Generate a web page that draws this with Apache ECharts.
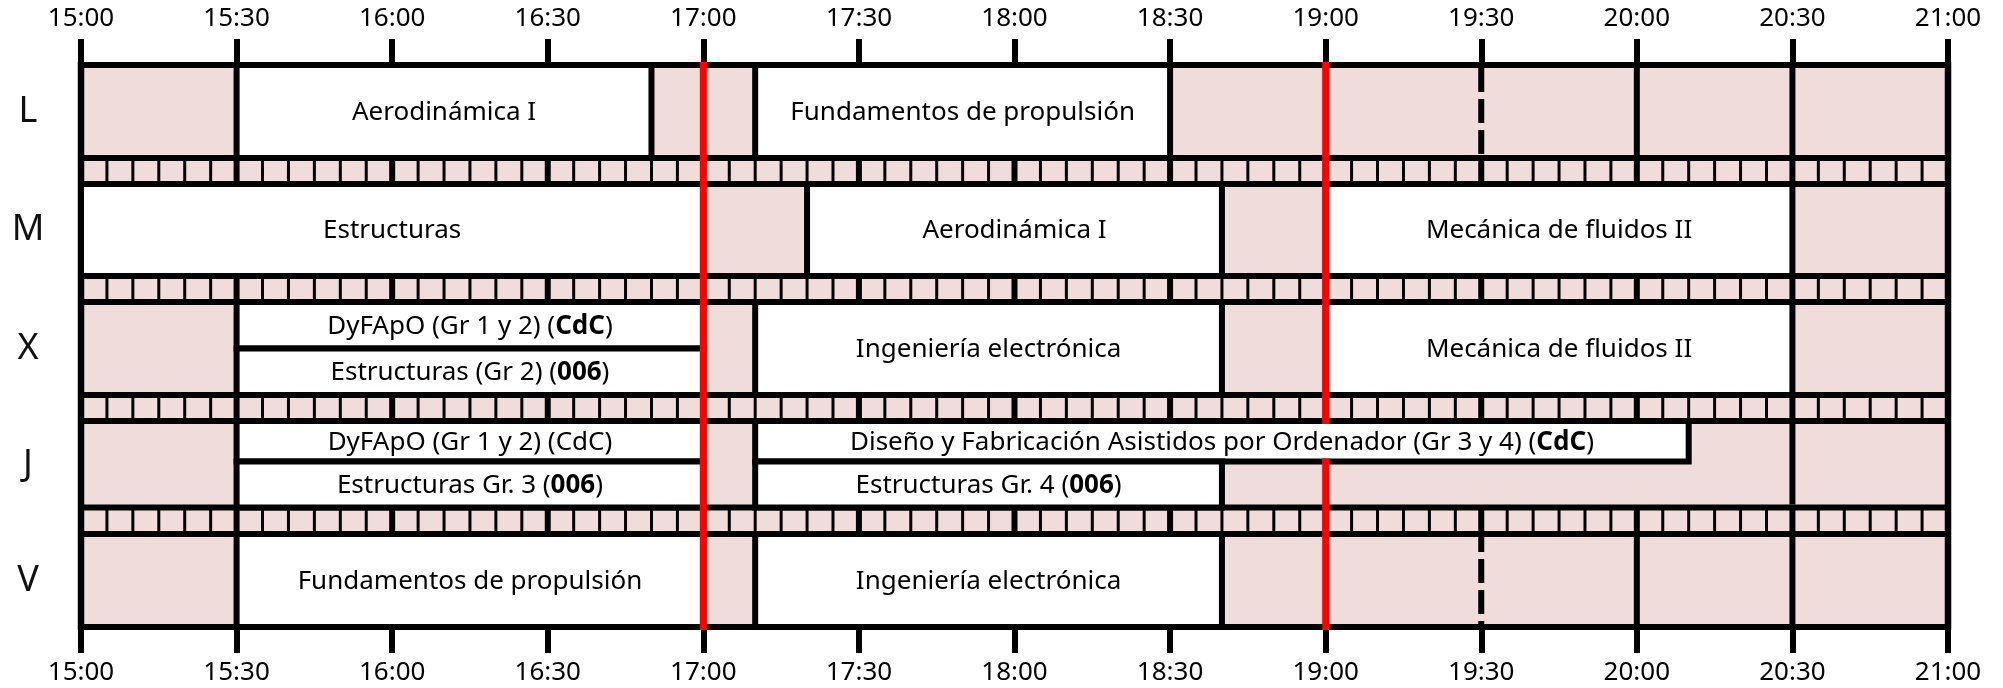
<!DOCTYPE html>
<html>
<head>
<meta charset="utf-8">
<script src="https://cdn.jsdelivr.net/npm/echarts@6/dist/echarts.min.js"></script>
<style>
html,body{margin:0;padding:0;background:#fff;}
#c{width:2003px;height:688px;}
</style>
</head>
<body>
<div id="c"></div>
<script>
// ---------------- DATA ----------------
const days = ['L', 'M', 'X', 'J', 'V'];
const tickLabels = ['15:00','15:30','16:00','16:30','17:00','17:30','18:00','18:30','19:00','19:30','20:00','20:30','21:00'];
// [dayIndex, part, start (minutes from 0:00), end, text]
const sessions = [
  [0, 'full',   930, 1010, 'Aerodinámica I'],
  [0, 'full',  1030, 1110, 'Fundamentos de propulsión'],
  [1, 'full',   900, 1020, 'Estructuras'],
  [1, 'full',  1040, 1120, 'Aerodinámica I'],
  [1, 'full',  1140, 1230, 'Mecánica de fluidos II'],
  [2, 'top',    930, 1020, 'DyFApO (Gr 1 y 2) ({b|CdC})'],
  [2, 'bottom', 930, 1020, 'Estructuras (Gr 2) ({b|006})'],
  [2, 'full',  1030, 1120, 'Ingeniería electrónica'],
  [2, 'full',  1140, 1230, 'Mecánica de fluidos II'],
  [3, 'top',    930, 1020, 'DyFApO (Gr 1 y 2) (CdC)'],
  [3, 'bottom', 930, 1020, 'Estructuras Gr. 3 ({b|006})'],
  [3, 'top',   1030, 1210, 'Diseño y Fabricación Asistidos por Ordenador (Gr 3 y 4) ({b|CdC})'],
  [3, 'bottom',1030, 1120, 'Estructuras Gr. 4 ({b|006})'],
  [4, 'full',   930, 1020, 'Fundamentos de propulsión'],
  [4, 'full',  1030, 1120, 'Ingeniería electrónica']
];
// free-time dividers inside pink areas: [dayIndex, time]
const dividers = [[0, 1170], [0, 1200], [0, 1230], [3, 1230], [4, 1170], [4, 1200], [4, 1230]];
const dashedDividerTimes = [1170];
const markerTimes = [1020, 1140];

// ---------------- LAYOUT (pixel-based layout coordinate on hidden y axis) ----------------
const T0 = 900, T1 = 1260;
const rowSpans = [[65, 158], [184, 276], [302, 395], [421, 507.5], [534, 627]];
const halfSplit = {2: 348.5, 3: 461.5};
const stripSpans = [[158, 184], [276, 302], [395, 421], [507.5, 534]];
const dashOffsets = {0: 0, 4: 9};
const PINK = '#f1dcdc';
const FONT = 'Noto Sans';

function partSpan(d, part) {
  const [a, b] = rowSpans[d];
  if (part === 'full') return [a, b];
  const m = halfSplit[d];
  return part === 'top' ? [a, m] : [m, b];
}

const chart = echarts.init(document.getElementById('c'), null, {renderer: 'canvas'});

function frameRender(params, api) {
  const P = (t, y) => api.coord([t, y]);
  const ch = [];
  const a = P(T0, 65), b = P(T1, 627);
  ch.push({type: 'rect', shape: {x: a[0], y: a[1], width: b[0] - a[0], height: b[1] - a[1]}, style: {fill: PINK}});
  // dividers
  dividers.forEach(([d, t]) => {
    const [y0, y1] = rowSpans[d];
    const p0 = P(t, y0 + 3), p1 = P(t, y1 - 3);
    const dashed = dashedDividerTimes.includes(t);
    ch.push({type: 'line', shape: {x1: p0[0], y1: p0[1], x2: p1[0], y2: p1[1]},
      style: {stroke: '#000', lineWidth: 6, lineDash: dashed ? [24, 7] : null, lineDashOffset: dashed ? (dashOffsets[d] || 0) : 0}});
  });
  // strips ticks
  stripSpans.forEach(([y0, y1]) => {
    for (let t = T0 + 5; t < T1; t += 5) {
      const p0 = P(t, y0), p1 = P(t, y1);
      ch.push({type: 'line', shape: {x1: p0[0], y1: p0[1], x2: p1[0], y2: p1[1]},
        style: {stroke: '#000', lineWidth: (t % 30 === 0) ? 6 : 3}});
    }
  });
  // horizontal lines
  const hy = [65, 627];
  stripSpans.forEach(s => { hy.push(s[0]); hy.push(s[1]); });
  hy.forEach(y => {
    const p0 = P(T0, y), p1 = P(T1, y);
    ch.push({type: 'line', shape: {x1: p0[0], y1: p0[1], x2: p1[0], y2: p1[1]}, style: {stroke: '#000', lineWidth: 6}});
  });
  // left/right borders
  [T0, T1].forEach(t => {
    const p0 = P(t, 62), p1 = P(t, 630);
    ch.push({type: 'line', shape: {x1: p0[0], y1: p0[1], x2: p1[0], y2: p1[1]}, style: {stroke: '#000', lineWidth: 6.5}});
  });
  // day labels
  days.forEach((d, i) => {
    const [y0, y1] = rowSpans[i];
    const p = P(T0, (y0 + y1) / 2);
    ch.push({type: 'text', x: p[0] - 53, y: p[1], style: {text: d, fontSize: 36, fontFamily: FONT, fill: '#111', align: 'center', verticalAlign: 'middle'}});
  });
  return {type: 'group', children: ch};
}

function sessionRender(params, api) {
  const s = sessions[params.dataIndex];
  const [y0, y1] = partSpan(s[0], s[1]);
  const p0 = api.coord([s[2], y0]), p1 = api.coord([s[3], y1]);
  return {type: 'group', children: [
    {type: 'rect', shape: {x: p0[0], y: p0[1], width: p1[0] - p0[0], height: p1[1] - p0[1]},
      style: {fill: '#fff', stroke: '#000', lineWidth: 6}},
    {type: 'text', x: (p0[0] + p1[0]) / 2, y: (p0[1] + p1[1]) / 2 + 1,
      style: {text: s[4], fontSize: 26, fontFamily: FONT, fill: '#000', align: 'center', verticalAlign: 'middle',
        rich: {b: {fontSize: 26, fontFamily: FONT, fontWeight: 'bold', fill: '#000'}}}}
  ]};
}

function markerRender(params, api) {
  const t = markerTimes[params.dataIndex];
  // visible segments: skip interiors of sessions that span across this time
  const holes = sessions.filter(s => s[2] < t && t < s[3]).map(s => {
    const [y0, y1] = partSpan(s[0], s[1]);
    return [y0 + 3, y1 - 3];
  }).sort((a, b) => a[0] - b[0]);
  const segs = [];
  let cur = 62;
  holes.forEach(h => { if (h[0] > cur) segs.push([cur, h[0]]); cur = Math.max(cur, h[1]); });
  if (cur < 630) segs.push([cur, 630]);
  return {type: 'group', children: segs.map(([a, b]) => {
    const p0 = api.coord([t, a]), p1 = api.coord([t, b]);
    return {type: 'line', shape: {x1: p0[0], y1: p0[1], x2: p1[0], y2: p1[1]}, style: {stroke: '#ff0000', lineWidth: 7}};
  })};
}

function axisDef(position, margin) {
  return {
    type: 'value', min: T0, max: T1, interval: 30, position: position,
    axisLine: {show: false},
    axisTick: {show: true, length: 26, lineStyle: {color: '#000', width: 6}},
    splitLine: {show: false},
    axisLabel: {show: true, fontSize: 26, fontFamily: FONT, color: '#000', margin: margin,
      showMinLabel: true, showMaxLabel: true,
      formatter: v => tickLabels[Math.round((v - T0) / 30)]}
  };
}

chart.setOption({
  animation: false,
  backgroundColor: '#fff',
  grid: {left: 81, right: 55, top: 65, bottom: 61},
  xAxis: [axisDef('top', 33), axisDef('bottom', 33)],
  yAxis: {type: 'value', min: 65, max: 627, inverse: true, show: false},
  series: [
    {type: 'custom', name: 'frame', renderItem: frameRender, data: [[0]], z: 1, silent: true},
    {type: 'custom', name: 'sessions', renderItem: sessionRender, data: sessions.map((s, i) => [i]), z: 2, silent: true},
    {type: 'custom', name: 'markers', renderItem: markerRender, data: markerTimes.map((t, i) => [i]), z: 3, silent: true}
  ]
});
</script>
</body>
</html>
